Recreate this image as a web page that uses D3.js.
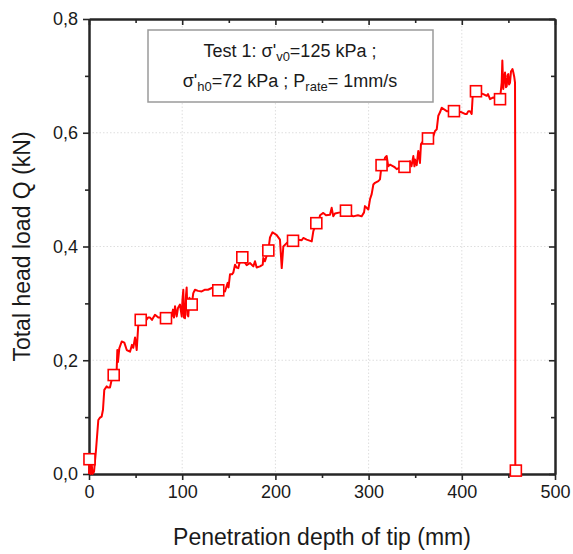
<!DOCTYPE html>
<html lang="en">
  <head>
    <meta charset="UTF-8" />
    <script src="https://d3js.org/d3.v7.min.js"></script>
    <title>Total head load vs penetration depth</title>
    <style type="text/css">
      body {
        margin: 0;
        background: #fff;
      }
      text {
        font-family: 'Liberation Sans', Arial, sans-serif;
        fill: #1a1a1a;
      }
      .tick text {
        font-size: 18px;
      }
      .axis path,
      .axis line {
        stroke: #262626;
      }
      .axis path {
        stroke-width: 2;
      }
      .axis line {
        stroke-width: 1.6;
      }
      .grid line {
        stroke: #dedede;
        stroke-dasharray: 1.5, 2;
      }
      .axis-label {
        font-size: 23px;
      }
      .legend-text {
        font-size: 18px;
      }
    </style>
  </head>
  <body>
    <svg width="573" height="554"></svg>
    <script type="text/javascript">
      // penetration depth of tip (mm) and total head load Q (kN)
      const depth = [
        0, 0.5, 1.6, 2.7, 3.8, 5.4, 7.5, 10.0, 11.8, 13.6, 15.0, 16.4, 19.0, 20.4, 22.5, 24.4, 26.5, 29.7, 30.4, 31.1,
        32.5, 35.1, 37.9, 40.5, 44.0, 46.1, 47.5, 49.4, 51.2, 52.9, 55.5, 60.1, 63.3, 65.5, 67.6, 70.8, 74.4, 78.3, 82.6,
        86.9, 88.7, 90.1, 91.2, 92.3, 94.1, 95.5, 97.6, 99.5, 100.3, 101.2, 101.9, 103.0, 104.1, 104.8, 105.7, 106.5,
        107.8, 110.2, 111.9, 113.7, 117.0, 120.9, 124.5, 127.7, 131.7, 135.2, 138.7, 142.7, 145.9, 148.8, 149.7, 151.3,
        153.4, 154.8, 156.7, 158.3, 160.2, 162.0, 164.5, 166.3, 169.2, 172.7, 176.3, 178.1, 179.9, 183.5, 186.4, 187.0,
        188.8, 192.4, 194.2, 196.9, 201.4, 204.9, 206.8, 208.5, 212.1, 214.6, 218.9, 224.6, 228.2, 229.9, 233.6, 239.0,
        240.7, 243.9, 245.7, 247.9, 251.4, 254.3, 258.6, 260.4, 262.1, 263.9, 269.3, 275.7, 280.0, 283.6, 288.6, 292.6,
        295.1, 296.1, 299.7, 301.5, 303.3, 305.1, 306.9, 310.4, 312.2, 313.9, 315.5, 317.6, 319.4, 321.1, 323.0, 326.5,
        328.3, 330.2, 333.7, 338.5, 342.3, 344.4, 346.0, 348.0, 349.2, 349.8, 351.6, 353.3, 355.1, 356.2, 358.4, 363.7,
        367.7, 369.4, 371.3, 373.1, 374.8, 376.6, 378.5, 383.8, 387.4, 391.6, 394.9, 399.9, 403.4, 405.3, 407.0, 408.8,
        410.6, 411.7, 413.1, 415.2, 419.5, 423.1, 426.7, 428.1, 430.3, 433.8, 437.8, 441.0, 442.8, 443.5, 444.5, 445.3,
        446.4, 447.4, 448.2, 449.1, 449.9, 450.7, 451.7, 452.8, 453.5, 454.4, 455.3, 456.3, 457.1, 457.4, 457.4, 457.9,
        458.4,
      ];
      const load = [
        0, 0.026, 0, 0.021, 0, 0.004, 0.042, 0.095, 0.099, 0.101, 0.113, 0.148, 0.154, 0.152, 0.152, 0.166, 0.174, 0.183,
        0.218, 0.197, 0.221, 0.233, 0.231, 0.218, 0.215, 0.227, 0.222, 0.24, 0.218, 0.263, 0.271, 0.268, 0.275, 0.275,
        0.271, 0.28, 0.275, 0.275, 0.274, 0.277, 0.277, 0.289, 0.275, 0.295, 0.277, 0.292, 0.298, 0.277, 0.307, 0.324,
        0.275, 0.274, 0.315, 0.328, 0.28, 0.277, 0.31, 0.298, 0.318, 0.324, 0.322, 0.321, 0.324, 0.324, 0.327, 0.326,
        0.323, 0.322, 0.321, 0.336, 0.328, 0.351, 0.351, 0.354, 0.368, 0.363, 0.362, 0.374, 0.381, 0.374, 0.367, 0.371,
        0.365, 0.374, 0.363, 0.365, 0.368, 0.38, 0.374, 0.393, 0.416, 0.425, 0.42, 0.412, 0.362, 0.4, 0.406, 0.409, 0.41,
        0.412, 0.411, 0.415, 0.412, 0.409, 0.427, 0.441, 0.437, 0.455, 0.459, 0.455, 0.456, 0.468, 0.453, 0.458, 0.46,
        0.463, 0.456, 0.453, 0.455, 0.453, 0.46, 0.471, 0.465, 0.483, 0.492, 0.509, 0.512, 0.515, 0.518, 0.543, 0.543,
        0.556, 0.559, 0.541, 0.544, 0.541, 0.539, 0.536, 0.539, 0.54, 0.544, 0.55, 0.541, 0.559, 0.541, 0.553, 0.543,
        0.568, 0.547, 0.58, 0.585, 0.59, 0.588, 0.594, 0.603, 0.606, 0.63, 0.636, 0.644, 0.638, 0.638, 0.638, 0.638,
        0.636, 0.633, 0.633, 0.638, 0.638, 0.633, 0.665, 0.668, 0.673, 0.67, 0.668, 0.665, 0.668, 0.659, 0.662, 0.659,
        0.659, 0.688, 0.727, 0.677, 0.694, 0.706, 0.68, 0.682, 0.701, 0.703, 0.685, 0.688, 0.708, 0.709, 0.712, 0.706,
        0.698, 0.688, 0.483, 0.002, 0.012, 0.004,
      ];

      // hollow square markers along the curve
      const markerDepth = [
        0.5, 26.5, 55.5, 82.6, 110.2, 138.7, 164.5, 192.4, 218.9, 243.9, 275.7, 313.9, 338.5, 363.7, 391.6, 415.2, 441.0,
        458.0,
      ];
      const markerLoad = [
        0.026, 0.174, 0.271, 0.274, 0.298, 0.323, 0.381, 0.393, 0.41, 0.441, 0.463, 0.543, 0.54, 0.59, 0.638, 0.673, 0.659,
        0.006,
      ];

      const xMajor = [0, 100, 200, 300, 400, 500];
      const xMinor = [50, 150, 250, 350, 450];
      const yMajor = [0, 0.2, 0.4, 0.6, 0.8];
      const yMinor = [0.1, 0.3, 0.5, 0.7];

      const margin = { top: 19, right: 18, bottom: 80, left: 89 };
      const width = 573 - margin.left - margin.right;
      const height = 554 - margin.top - margin.bottom;

      const svg = d3.select('svg');
      const g = svg.append('g').attr('transform', `translate(${margin.left}, ${margin.top})`);

      const xScale = d3.scaleLinear().domain([0, 500]).range([0, width]);
      const yScale = d3.scaleLinear().domain([0, 0.8]).range([height, 0]);

      const fmtY = (d) => d3.format('.1f')(d).replace('.', ',');

      // grid
      g.append('g')
        .attr('class', 'grid')
        .selectAll('line.gx')
        .data(xMajor.slice(1, -1))
        .enter()
        .append('line')
        .attr('x1', (d) => xScale(d))
        .attr('x2', (d) => xScale(d))
        .attr('y1', 0)
        .attr('y2', height);
      g.append('g')
        .attr('class', 'grid')
        .selectAll('line.gy')
        .data(yMajor.slice(1, -1))
        .enter()
        .append('line')
        .attr('x1', 0)
        .attr('x2', width)
        .attr('y1', (d) => yScale(d))
        .attr('y2', (d) => yScale(d));

      // bottom / left axes, ticks outward
      g.append('g')
        .attr('class', 'axis')
        .attr('transform', `translate(0, ${height})`)
        .call(d3.axisBottom(xScale).tickValues(xMajor).tickSize(6).tickSizeOuter(0).tickPadding(5));
      g.append('g')
        .attr('class', 'axis')
        .attr('transform', `translate(0, ${height})`)
        .call(d3.axisBottom(xScale).tickValues(xMinor).tickSize(4).tickSizeOuter(0).tickFormat(''));
      g.append('g')
        .attr('class', 'axis')
        .call(d3.axisLeft(yScale).tickValues(yMajor).tickSize(6).tickSizeOuter(0).tickPadding(5).tickFormat(fmtY));
      g.append('g')
        .attr('class', 'axis')
        .call(d3.axisLeft(yScale).tickValues(yMinor).tickSize(4).tickSizeOuter(0).tickFormat(''));

      // top / right axes, ticks inward
      g.append('g')
        .attr('class', 'axis')
        .call(d3.axisTop(xScale).tickValues(xMajor).tickSize(-6).tickSizeOuter(0).tickFormat(''));
      g.append('g')
        .attr('class', 'axis')
        .call(d3.axisTop(xScale).tickValues(xMinor).tickSize(-4).tickSizeOuter(0).tickFormat(''));
      g.append('g')
        .attr('class', 'axis')
        .attr('transform', `translate(${width}, 0)`)
        .call(d3.axisRight(yScale).tickValues(yMajor).tickSize(-6).tickSizeOuter(0).tickFormat(''));
      g.append('g')
        .attr('class', 'axis')
        .attr('transform', `translate(${width}, 0)`)
        .call(d3.axisRight(yScale).tickValues(yMinor).tickSize(-4).tickSizeOuter(0).tickFormat(''));

      // legend box
      const legend = g.append('g').attr('transform', `translate(${148 - margin.left}, ${30 - margin.top})`);
      legend
        .append('rect')
        .attr('width', 285)
        .attr('height', 72)
        .attr('fill', '#fff')
        .attr('stroke', '#9a9a9a')
        .attr('stroke-width', 1.5);

      const line1 = legend.append('text').attr('class', 'legend-text').attr('x', 142).attr('y', 27).attr('text-anchor', 'middle');
      line1.append('tspan').text("Test 1: σ'");
      line1.append('tspan').attr('font-size', '13px').attr('dy', 4).text('v0');
      line1.append('tspan').attr('dy', -4).text('=125 kPa ;');

      const line2 = legend.append('text').attr('class', 'legend-text').attr('x', 142).attr('y', 57).attr('text-anchor', 'middle');
      line2.append('tspan').text("σ'");
      line2.append('tspan').attr('font-size', '13px').attr('dy', 4).text('h0');
      line2.append('tspan').attr('dy', -4).text('=72 kPa ; P');
      line2.append('tspan').attr('font-size', '13px').attr('dy', 4).text('rate');
      line2.append('tspan').attr('dy', -4).text('= 1mm/s');

      // curve
      const pts = depth.map((d, i) => [d, load[i]]);
      g.append('path')
        .datum(pts)
        .attr('fill', 'none')
        .attr('stroke', '#ff0000')
        .attr('stroke-width', 2)
        .attr('stroke-linejoin', 'round')
        .attr(
          'd',
          d3
            .line()
            .x((d) => xScale(d[0]))
            .y((d) => yScale(d[1]))
        );

      // markers
      const ms = 11;
      g.selectAll('rect.marker')
        .data(markerDepth.map((d, i) => [d, markerLoad[i]]))
        .enter()
        .append('rect')
        .attr('class', 'marker')
        .attr('x', (d) => xScale(d[0]) - ms / 2)
        .attr('y', (d) => yScale(d[1]) - ms / 2)
        .attr('width', ms)
        .attr('height', ms)
        .attr('fill', '#fff')
        .attr('stroke', '#ff0000')
        .attr('stroke-width', 1.6);

      // axis labels
      g.append('text')
        .attr('class', 'axis-label')
        .attr('text-anchor', 'middle')
        .attr('x', width / 2)
        .attr('y', 545 - margin.top)
        .text('Penetration depth of tip (mm)');
      g.append('text')
        .attr('class', 'axis-label')
        .attr('text-anchor', 'middle')
        .attr('transform', `translate(${30 - margin.left}, ${height / 2}) rotate(-90)`)
        .text('Total head load Q (kN)');
    </script>
  </body>
</html>
